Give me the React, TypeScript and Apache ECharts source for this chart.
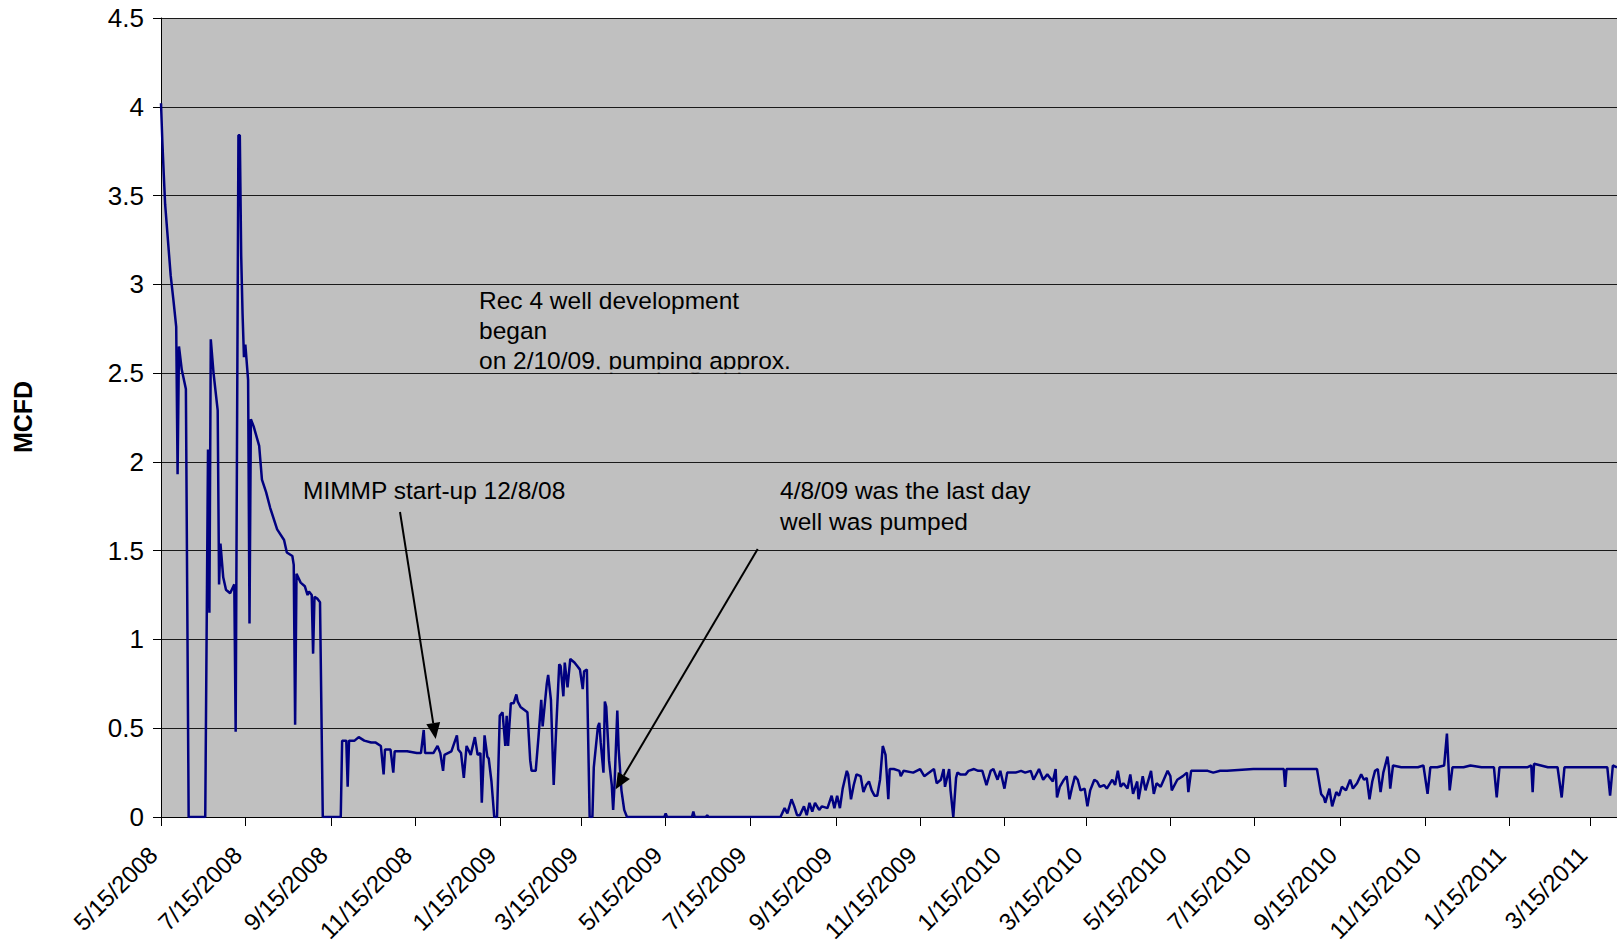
import React, { useEffect, useRef } from "react";
import * as echarts from "echarts";

// ---------- axis domain (daily categories) ----------
const START_DATE = "5/15/2008";
const END_DATE = "4/3/2011";
const yTicks = { min: 0, max: 4.5, step: 0.5 };
const labelMonths = [1, 3, 5, 7, 9, 11];

// ---------- data (MCFD) ----------
const dates2008 = [
  "5/15/2008", "5/16/2008", "5/17/2008", "5/18/2008", "5/20/2008", "5/22/2008", "5/24/2008", "5/26/2008",
  "5/27/2008", "5/28/2008", "5/30/2008", "6/2/2008", "6/4/2008", "6/16/2008", "6/18/2008", "6/19/2008",
  "6/20/2008", "6/22/2008", "6/25/2008", "6/26/2008", "6/27/2008", "6/29/2008", "7/1/2008", "7/4/2008",
  "7/7/2008", "7/8/2008", "7/10/2008", "7/11/2008", "7/12/2008", "7/13/2008", "7/14/2008", "7/15/2008",
  "7/17/2008", "7/18/2008", "7/19/2008", "7/21/2008", "7/25/2008", "7/27/2008", "7/30/2008", "8/2/2008",
  "8/7/2008", "8/12/2008", "8/14/2008", "8/18/2008", "8/19/2008", "8/20/2008", "8/21/2008", "8/24/2008",
  "8/27/2008", "8/29/2008", "8/30/2008", "9/1/2008", "9/2/2008", "9/3/2008", "9/5/2008", "9/7/2008",
  "9/9/2008", "9/22/2008", "9/23/2008", "9/26/2008", "9/27/2008", "9/28/2008", "10/2/2008", "10/5/2008",
  "10/9/2008", "10/14/2008", "10/17/2008", "10/21/2008", "10/23/2008", "10/24/2008", "10/28/2008", "10/30/2008",
  "10/31/2008", "11/9/2008", "11/16/2008", "11/19/2008", "11/21/2008", "11/22/2008", "11/28/2008", "12/1/2008",
  "12/3/2008", "12/5/2008", "12/6/2008", "12/11/2008", "12/15/2008", "12/16/2008", "12/18/2008", "12/20/2008",
  "12/22/2008", "12/25/2008", "12/28/2008", "12/30/2008",
];
const values2008 = [
  4.02, 3.8, 3.62, 3.45, 3.25, 3.05, 2.91, 2.76,
  1.93, 2.65, 2.52, 2.41, 0, 0, 2.07, 1.15,
  2.69, 2.5, 2.29, 1.31, 1.54, 1.35, 1.28, 1.26,
  1.31, 0.48, 3.84, 3.84, 3.16, 2.83, 2.59, 2.66,
  2.46, 1.09, 2.24, 2.2, 2.09, 1.9, 1.83, 1.74,
  1.62, 1.56, 1.49, 1.47, 1.42, 0.52, 1.37, 1.32,
  1.3, 1.25, 1.27, 1.25, 0.92, 1.24, 1.23, 1.21,
  0, 0, 0.43, 0.43, 0.17, 0.43, 0.43, 0.45,
  0.43, 0.42, 0.42, 0.4, 0.24, 0.38, 0.38, 0.25,
  0.37, 0.37, 0.36, 0.36, 0.49, 0.36, 0.36, 0.4,
  0.36, 0.26, 0.35, 0.37, 0.46, 0.38, 0.36, 0.22,
  0.4, 0.35, 0.45, 0.35,
];

const dates2009 = [
  "1/1/2009", "1/2/2009", "1/4/2009", "1/6/2009", "1/7/2009", "1/9/2009", "1/11/2009", "1/13/2009",
  "1/15/2009", "1/17/2009", "1/19/2009", "1/20/2009", "1/21/2009", "1/23/2009", "1/25/2009", "1/27/2009",
  "1/28/2009", "1/30/2009", "2/4/2009", "2/6/2009", "2/7/2009", "2/10/2009", "2/12/2009", "2/14/2009",
  "2/15/2009", "2/18/2009", "2/19/2009", "2/21/2009", "2/23/2009", "2/25/2009", "2/27/2009", "2/28/2009",
  "3/2/2009", "3/3/2009", "3/5/2009", "3/7/2009", "3/10/2009", "3/12/2009", "3/14/2009", "3/16/2009",
  "3/17/2009", "3/19/2009", "3/21/2009", "3/23/2009", "3/24/2009", "3/27/2009", "3/28/2009", "3/29/2009",
  "3/31/2009", "4/1/2009", "4/2/2009", "4/4/2009", "4/6/2009", "4/7/2009", "4/8/2009", "4/10/2009",
  "4/11/2009", "4/13/2009", "4/15/2009", "4/17/2009", "5/14/2009", "5/15/2009", "5/16/2009", "6/3/2009",
  "6/4/2009", "6/5/2009", "6/13/2009", "6/14/2009", "6/15/2009", "8/6/2009", "8/9/2009", "8/11/2009",
  "8/14/2009", "8/16/2009", "8/18/2009", "8/20/2009", "8/23/2009", "8/25/2009", "8/27/2009", "8/29/2009",
  "8/31/2009", "9/3/2009", "9/5/2009", "9/9/2009", "9/12/2009", "9/14/2009", "9/16/2009", "9/18/2009",
  "9/20/2009", "9/23/2009", "9/24/2009", "9/26/2009", "9/28/2009", "9/30/2009", "10/3/2009", "10/5/2009",
  "10/7/2009", "10/9/2009", "10/11/2009", "10/13/2009", "10/15/2009", "10/17/2009", "10/19/2009", "10/21/2009",
  "10/23/2009", "10/24/2009", "10/27/2009", "10/31/2009", "11/1/2009", "11/3/2009", "11/10/2009", "11/15/2009",
  "11/18/2009", "11/25/2009", "11/27/2009", "11/30/2009", "12/2/2009", "12/3/2009", "12/6/2009", "12/7/2009",
  "12/9/2009", "12/11/2009", "12/12/2009", "12/14/2009", "12/18/2009", "12/20/2009", "12/24/2009", "12/27/2009",
  "12/30/2009",
];
const values2009 = [
  0.36, 0.08, 0.46, 0.34, 0.33, 0.2, 0, 0,
  0.57, 0.59, 0.4, 0.57, 0.4, 0.64, 0.64, 0.69,
  0.65, 0.62, 0.59, 0.32, 0.26, 0.26, 0.45, 0.66,
  0.51, 0.75, 0.8, 0.66, 0.18, 0.53, 0.86, 0.85,
  0.68, 0.87, 0.73, 0.89, 0.87, 0.85, 0.83, 0.72,
  0.82, 0.83, 0, 0, 0.28, 0.51, 0.53, 0.42,
  0.25, 0.65, 0.62, 0.32, 0.18, 0.04, 0.18, 0.6,
  0.38, 0.15, 0.04, 0, 0, 0.02, 0, 0,
  0.03, 0, 0, 0.01, 0, 0, 0.05, 0.02,
  0.1, 0.06, 0.01, 0.01, 0.06, 0.01, 0.08, 0.03,
  0.08, 0.04, 0.06, 0.05, 0.12, 0.05, 0.12, 0.05,
  0.16, 0.26, 0.24, 0.1, 0.18, 0.24, 0.23, 0.14,
  0.18, 0.2, 0.15, 0.12, 0.12, 0.21, 0.4, 0.35,
  0.1, 0.27, 0.27, 0.26, 0.23, 0.26, 0.25, 0.27,
  0.23, 0.27, 0.19, 0.21, 0.27, 0.17, 0.27, 0.15,
  0, 0.22, 0.25, 0.24, 0.24, 0.26, 0.27, 0.26,
  0.26,
];

const dates2010 = [
  "1/2/2010", "1/5/2010", "1/7/2010", "1/10/2010", "1/12/2010", "1/15/2010", "1/17/2010", "1/23/2010",
  "1/27/2010", "1/30/2010", "2/3/2010", "2/5/2010", "2/9/2010", "2/12/2010", "2/15/2010", "2/19/2010",
  "2/21/2010", "2/22/2010", "2/24/2010", "2/27/2010", "3/1/2010", "3/3/2010", "3/5/2010", "3/7/2010",
  "3/9/2010", "3/11/2010", "3/14/2010", "3/16/2010", "3/18/2010", "3/21/2010", "3/23/2010", "3/25/2010",
  "3/28/2010", "3/30/2010", "4/3/2010", "4/5/2010", "4/7/2010", "4/9/2010", "4/11/2010", "4/14/2010",
  "4/16/2010", "4/18/2010", "4/21/2010", "4/22/2010", "4/25/2010", "4/27/2010", "5/1/2010", "5/3/2010",
  "5/5/2010", "5/8/2010", "5/13/2010", "5/15/2010", "5/16/2010", "5/20/2010", "5/24/2010", "5/27/2010",
  "5/28/2010", "5/30/2010", "6/6/2010", "6/11/2010", "6/15/2010", "6/20/2010", "6/25/2010", "7/14/2010",
  "8/5/2010", "8/6/2010", "8/7/2010", "8/29/2010", "9/1/2010", "9/3/2010", "9/4/2010", "9/7/2010",
  "9/9/2010", "9/12/2010", "9/14/2010", "9/16/2010", "9/19/2010", "9/22/2010", "9/24/2010", "9/27/2010",
  "9/30/2010", "10/2/2010", "10/4/2010", "10/6/2010", "10/8/2010", "10/10/2010", "10/12/2010", "10/14/2010",
  "10/16/2010", "10/19/2010", "10/20/2010", "10/21/2010", "10/23/2010", "10/29/2010", "11/6/2010", "11/10/2010",
  "11/14/2010", "11/17/2010", "11/19/2010", "11/24/2010", "11/29/2010", "12/1/2010", "12/3/2010", "12/5/2010",
  "12/13/2010", "12/18/2010", "12/26/2010",
];
const values2010 = [
  0.18, 0.26, 0.27, 0.21, 0.26, 0.16, 0.25, 0.25,
  0.26, 0.25, 0.26, 0.21, 0.27, 0.21, 0.24, 0.2,
  0.27, 0.11, 0.17, 0.21, 0.23, 0.1, 0.17, 0.23,
  0.21, 0.15, 0.16, 0.06, 0.15, 0.21, 0.2, 0.17,
  0.18, 0.16, 0.21, 0.18, 0.26, 0.17, 0.19, 0.16,
  0.24, 0.13, 0.2, 0.1, 0.23, 0.15, 0.26, 0.13,
  0.19, 0.17, 0.26, 0.23, 0.15, 0.21, 0.23, 0.25,
  0.14, 0.26, 0.26, 0.26, 0.25, 0.26, 0.26, 0.27,
  0.27, 0.17, 0.27, 0.27, 0.13, 0.11, 0.08, 0.16,
  0.06, 0.14, 0.12, 0.17, 0.15, 0.21, 0.16, 0.19,
  0.24, 0.21, 0.22, 0.1, 0.2, 0.26, 0.27, 0.14,
  0.25, 0.34, 0.28, 0.16, 0.29, 0.28, 0.28, 0.28,
  0.29, 0.13, 0.28, 0.28, 0.29, 0.47, 0.15, 0.28,
  0.28, 0.29, 0.28,
];

const dates2011 = [
  "1/4/2011", "1/6/2011", "1/8/2011", "1/18/2011", "1/28/2011", "1/31/2011", "2/1/2011", "2/2/2011",
  "2/12/2011", "2/19/2011", "2/22/2011", "2/24/2011", "3/8/2011", "3/17/2011", "3/27/2011", "3/29/2011",
  "3/31/2011", "4/3/2011",
];
const values2011 = [
  0.28, 0.11, 0.28, 0.28, 0.28, 0.29, 0.14, 0.3,
  0.28, 0.28, 0.11, 0.28, 0.28, 0.28, 0.28, 0.12,
  0.29, 0.28,
];

// ---------- helpers ----------
const parseDate = (s: string) => {
  const [m, d, y] = s.split("/").map(Number);
  return Date.UTC(y, m - 1, d);
};
const fmtDate = (t: number) => {
  const d = new Date(t);
  return `${d.getUTCMonth() + 1}/${d.getUTCDate()}/${d.getUTCFullYear()}`;
};

const categories: string[] = [];
for (let t = parseDate(START_DATE); t <= parseDate(END_DATE); t += 86400000) {
  categories.push(fmtDate(t));
}

const allDates = [...dates2008, ...dates2009, ...dates2010, ...dates2011];
const allValues = [...values2008, ...values2009, ...values2010, ...values2011];
const valueByDate = new Map<string, number>();
allDates.forEach((d, i) => valueByDate.set(d, allValues[i]));
const seriesData = categories.map((c) => (valueByDate.has(c) ? valueByDate.get(c)! : null));

const isLabelDay = (_i: number, v: string) => {
  const [m, d] = v.split("/").map(Number);
  return d === 15 && labelMonths.includes(m);
};

const FONT = "'Liberation Sans', Arial, sans-serif";

export default function App() {
  const ref = useRef<HTMLDivElement>(null);

  useEffect(() => {
    document.body.style.margin = "0";
    const chart = echarts.init(ref.current!, undefined, { renderer: "svg" });

    const arrow = (x1: number, y1: number, x2: number, y2: number) => {
      const dx = x2 - x1;
      const dy = y2 - y1;
      const len = Math.hypot(dx, dy);
      const ux = dx / len;
      const uy = dy / len;
      const hl = 16;
      const hw = 7;
      const bx = x2 - ux * hl;
      const by = y2 - uy * hl;
      return [
        {
          type: "line",
          shape: { x1, y1, x2: bx, y2: by },
          style: { stroke: "#000", lineWidth: 2 },
          z: 100,
        },
        {
          type: "polygon",
          shape: {
            points: [
              [x2, y2],
              [bx - uy * hw, by + ux * hw],
              [bx + uy * hw, by - ux * hw],
            ],
          },
          style: { fill: "#000" },
          z: 100,
        },
      ];
    };

    const txt = (text: string, x: number, y: number, size = 24.5) => ({
      type: "text",
      x,
      y,
      z: 100,
      style: {
        text,
        fill: "#000",
        font: `${size}px ${FONT}`,
        align: "left",
        verticalAlign: "middle",
      },
    });

    const option: any = {
      animation: false,
      backgroundColor: "#ffffff",
      textStyle: { fontFamily: FONT },
      grid: {
        left: 161,
        right: 0,
        top: 18,
        bottom: 129,
        show: true,
        containLabel: false,
        outerBoundsMode: "none",
        backgroundColor: "#C0C0C0",
        borderWidth: 0,
      },
      xAxis: {
        type: "category",
        data: categories,
        boundaryGap: false,
        axisLine: { lineStyle: { color: "#000", width: 1 } },
        axisTick: { show: true, length: 9, interval: isLabelDay, lineStyle: { color: "#000" } },
        axisLabel: {
          interval: isLabelDay,
          rotate: 45,
          margin: 26,
          padding: [0, 11, 0, 0],
          fontSize: 24,
          color: "#000",
          fontFamily: FONT,
        },
        splitLine: { show: false },
      },
      yAxis: {
        type: "value",
        min: yTicks.min,
        max: yTicks.max,
        interval: yTicks.step,
        axisLine: { show: true, lineStyle: { color: "#000", width: 1 } },
        axisTick: { show: true, length: 8, lineStyle: { color: "#000" } },
        axisLabel: { margin: 17, fontSize: 26, color: "#000", fontFamily: FONT },
        splitLine: { show: true, lineStyle: { color: "#1a1a1a", width: 1 } },
      },
      series: [
        {
          type: "line",
          data: seriesData,
          connectNulls: true,
          showSymbol: false,
          symbol: "none",
          lineStyle: { color: "#000080", width: 2.5 },
        },
      ],
      graphic: [
        {
          type: "text",
          x: 23,
          y: 417,
          rotation: Math.PI / 2,
          z: 100,
          style: {
            text: "MCFD",
            fill: "#000",
            font: `bold 25px ${FONT}`,
            align: "center",
            verticalAlign: "middle",
          },
        },
        txt("Rec 4 well development", 479, 300),
        txt("began", 479, 330),
        txt("on 2/10/09, pumping approx.", 479, 360),
        {
          type: "rect",
          shape: { x: 470, y: 369.4, width: 330, height: 3.3 },
          style: { fill: "#C0C0C0" },
          z: 101,
        },
        txt("MIMMP start-up 12/8/08", 303, 490),
        txt("4/8/09 was the last day", 780, 490),
        txt("well was pumped", 780, 521),
        ...arrow(400, 512, 435.7, 739),
        ...arrow(757.7, 549, 615.7, 789.3),
      ],
    };

    chart.setOption(option);
    return () => chart.dispose();
  }, []);

  return <div ref={ref} style={{ width: 1617, height: 946 }} />;
}
